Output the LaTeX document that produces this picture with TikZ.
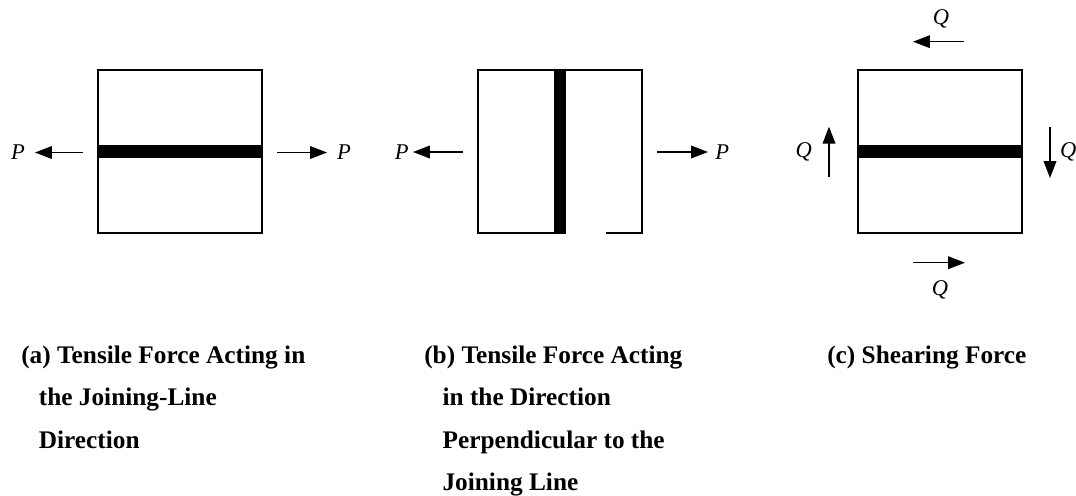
\documentclass[tikz,border=0pt]{standalone}
\usepackage{fontspec}
\setmainfont{Liberation Serif}
\usetikzlibrary{arrows.meta,positioning,calc}

\begin{document}
\begin{tikzpicture}[x=0.025cm,y=-0.025cm,
  panel/.style={draw,line width=1pt,minimum width=4.1cm,minimum height=4.075cm,inner sep=0pt},
  seam/.style={fill=black},
  force/.style={-{Triangle[length=12pt,width=9pt]},line width=1pt},
  load/.style={font=\fontsize{16}{18}\selectfont\itshape,inner sep=0pt},
  caption/.style={font=\fontsize{18}{30.2}\selectfont\bfseries,align=left,anchor=base west,inner sep=0pt}]
  \useasboundingbox (0,0) rectangle (1076,495);

  % the three joined plates
  \node[panel] (sqA) at (180,151.5) {};
  \node[panel] (sqB) at (560,151.5) {};
  \node[panel] (sqC) at (940,151.5) {};
  \fill[seam] ($(sqA.west)+(0,-6.2)$) rectangle ($(sqA.east)+(0,6.2)$);
  \fill[seam] ($(sqB.north)+(-6.2,0)$) rectangle ($(sqB.south)+(6.2,0)$);
  \fill[seam] ($(sqC.west)+(0,-6.2)$) rectangle ($(sqC.east)+(0,6.2)$);
  \draw[white,line width=1.4pt] (566,233) -- (606,233);

  % (a) tension along the joint
  \coordinate (aLt) at (83,152.5);  \coordinate (aL) at (35,152.5);
  \coordinate (aRt) at (277,152.5); \coordinate (aR) at (327,152.5);
  \draw[force] (aLt) -- (aL);
  \draw[force] (aRt) -- (aR);
  \node[load,left=7pt of aL] (pAL) {P};
  \node[load,right=7pt of aR] (pAR) {P};

  % (b) tension across the joint
  \coordinate (bLt) at (463,152); \coordinate (bL) at (413,152);
  \coordinate (bRt) at (657,152); \coordinate (bR) at (708,152);
  \draw[force] (bLt) -- (bL);
  \draw[force] (bRt) -- (bR);
  \node[load,left=3pt of bL] (pBL) {P};
  \node[load,right=5pt of bR] (pBR) {P};

  % (c) shear
  \coordinate (cTt) at (964,41.7);  \coordinate (cT) at (913,41.7);
  \coordinate (cBt) at (913,262.7); \coordinate (cB) at (965,262.7);
  \coordinate (cLt) at (829,176.7); \coordinate (cL) at (829,126.7);
  \coordinate (cRt) at (1050,126.7); \coordinate (cR) at (1050,178);
  \coordinate (cLm) at (829,152);   \coordinate (cRm) at (1050,152);
  \draw[force] (cTt) -- (cT);
  \draw[force] (cBt) -- (cB);
  \draw[force] (cLt) -- (cL);
  \draw[force] (cRt) -- (cR);
  \node[load,anchor=base] (qT) at (941,24) {Q};
  \node[load,anchor=base] (qB) at (940,295) {Q};
  \node[load,left=12pt of cLm] (qL) {Q};
  \node[load,right=7pt of cRm] (qR) {Q};

  % captions (base = last line)
  \node[caption] (capA) at (21,448) {(a) Tensile Force Acting in\\
    \hspace*{12.5pt}the Joining-Line\\ \hspace*{12.5pt}Direction};
  \node[caption] (capB) at (424,490.5) {(b) Tensile Force Acting\\
    \hspace*{13pt}in the Direction\\ \hspace*{13pt}Perpendicular to the\\
    \hspace*{13pt}Joining Line};
  \node[caption] (capC) at (827,363) {(c) Shearing Force};
\end{tikzpicture}
\end{document}
